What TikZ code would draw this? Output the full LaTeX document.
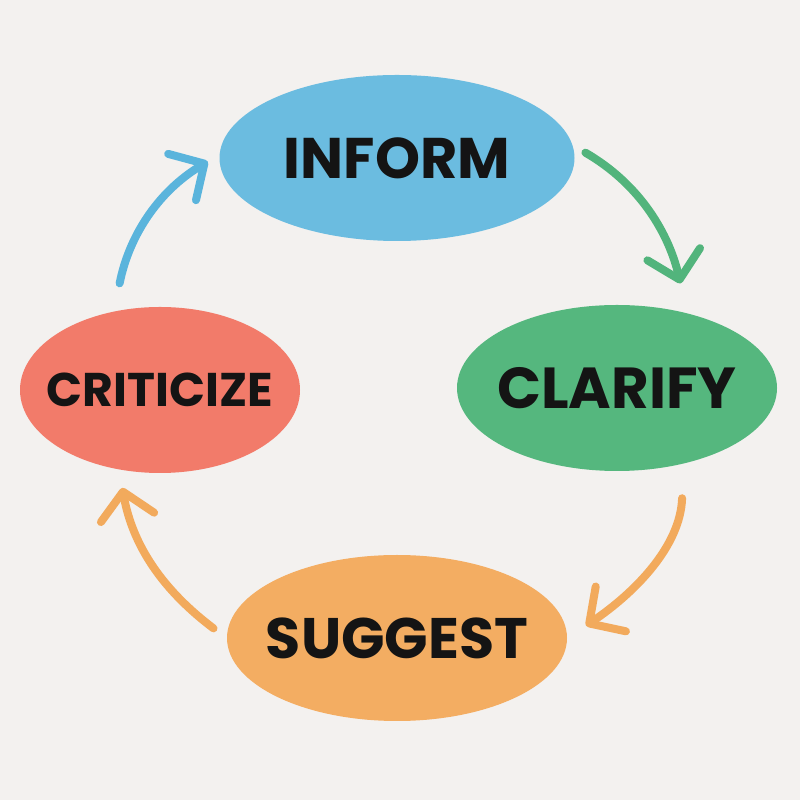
\documentclass[tikz,border=0pt]{standalone}
\usepackage{fontspec}
\setmainfont{Poppins}
\usetikzlibrary{arrows.meta, shapes.geometric}
\usepackage{xcolor}
\definecolor{bgcol}{HTML}{F3F1EF}
\definecolor{informcol}{HTML}{6BBCE0}
\definecolor{clarifycol}{HTML}{55B77E}
\definecolor{criticizecol}{HTML}{F27B6A}
\definecolor{suggestcol}{HTML}{F3AD62}
\definecolor{bluearr}{HTML}{5AB4DC}
\definecolor{greenarr}{HTML}{52B47C}
\definecolor{orangearr}{HTML}{F2AA5C}
\definecolor{textcol}{HTML}{141414}

\begin{document}
\begin{tikzpicture}[
                blob/.style={ellipse, inner sep=0pt, minimum height=1.66cm},
                word/.style={text=textcol, font=\bfseries\fontsize{#1}{#1}\selectfont},
                edge/.style={-{Straight Barb[length=2.6mm, width=5.4mm, line cap=round, line join=round]},
                             line width=0.08cm, line cap=round},
            ]

            % Background
            \fill[bgcol] (0,0) rectangle (8,8);
            \useasboundingbox (0,0) rectangle (8,8);

            % Nodes round the cycle
            \node[blob, fill=informcol, minimum width=3.55cm,
                  label={[word=16.3]center:INFORM}] (inform) at (3.97,6.42) {};
            \node[blob, fill=clarifycol, minimum width=3.20cm,
                  label={[word=16.45]center:CLARIFY}] (clarify) at (6.17,4.12) {};
            \node[blob, fill=suggestcol, minimum width=3.40cm,
                  label={[word=16.25]center:SUGGEST}] (suggest) at (3.97,1.62) {};
            \node[blob, fill=criticizecol, minimum width=2.80cm,
                  label={[word=13.45]center:CRITICIZE}] (criticize) at (1.60,4.10) {};

            % Connections
            \draw[edge, greenarr, shorten <=0.14cm, shorten >=0.30cm] (inform.4) to[out=-30, in=103] (clarify.47);
            \draw[edge, orangearr, shorten <=0.34cm, shorten >=0.22cm] (clarify.-49) to[out=-92, in=34] (suggest.0);
            \draw[edge, orangearr, shorten <=0.16cm, shorten >=0.18cm] (suggest.180) to[out=143, in=-80] (criticize.243);
            \draw[edge, bluearr, shorten <=0.28cm, shorten >=0.13cm] (criticize.120) to[out=79, in=211] (inform.179);

\end{tikzpicture}
\end{document}
